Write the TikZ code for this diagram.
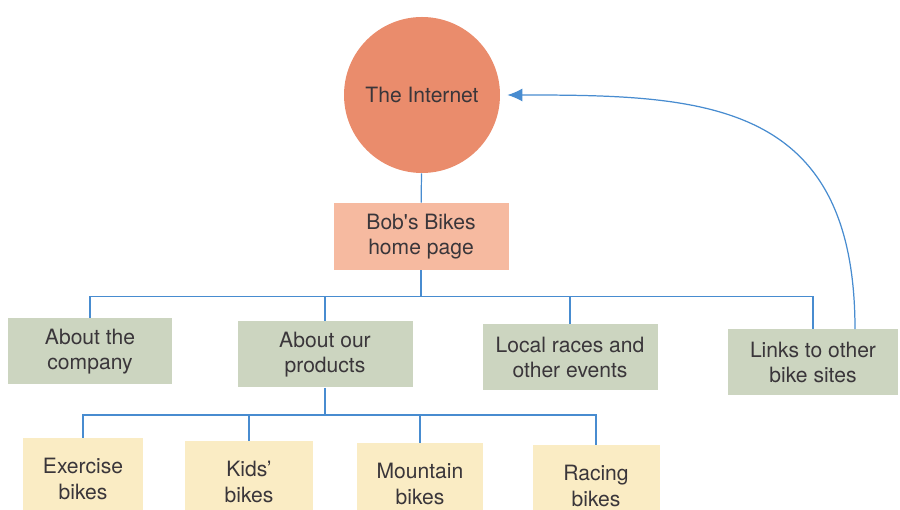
\documentclass[tikz,border=0pt]{standalone}
\usepackage{fontspec}
\setmainfont{TeX Gyre Heros}
\usepackage{tikz}
\usetikzlibrary{arrows.meta}

\definecolor{netorange}{RGB}{234,140,108}
\definecolor{homepink}{RGB}{246,186,160}
\definecolor{sectiongreen}{RGB}{204,213,192}
\definecolor{bikeyellow}{RGB}{250,236,196}
\definecolor{linkblue}{RGB}{72,140,208}
\definecolor{labelgray}{RGB}{58,54,58}

\begin{document}
\begin{tikzpicture}[every node/.style={text=labelgray,font=\fontsize{12}{14.5}\selectfont,align=center},
	net_node/.style={circle,fill=netorange,minimum size=3.12cm,inner sep=0pt},
	home_node/.style={rectangle,fill=homepink,minimum width=3.5cm,minimum height=1.34cm},
	section_node/.style={rectangle,fill=sectiongreen,minimum height=1.32cm},
	bike_node/.style={rectangle,fill=bikeyellow,minimum height=1.64cm},
	link/.style={draw=linkblue,line width=0.7pt}]
	    \useasboundingbox (0,0) rectangle (18,-10.2);

	    % joints of the two rows of connectors
	    \coordinate (bus1) at (8.42,-5.93);
	    \coordinate (bus2) at (6.5,-8.3);

	    \node[net_node] (net) at (8.44,-1.9) {The Internet};
	    \node[home_node] (home) at (8.42,-4.73) {Bob\textquotesingle s Bikes\\home page};

	    \node[section_node,minimum width=3.28cm] (company) at (1.8,-7.03) {About the\\company};
	    \node[section_node,minimum width=3.5cm] (products) at (6.5,-7.09) {About our\\products};
	    \node[section_node,minimum width=3.5cm] (races) at (11.4,-7.15) {Local races and\\other events};
	    \node[section_node,minimum width=3.4cm] (links) at (16.26,-7.25) {Links to other\\bike sites};

	    \node[bike_node,minimum width=2.4cm] (exercise) at (1.66,-9.58) {Exercise\\bikes};
	    \node[bike_node,minimum width=2.56cm] (kids) at (4.98,-9.64) {Kids'\\bikes};
	    \node[bike_node,minimum width=2.52cm] (mountain) at (8.4,-9.68) {Mountain\\bikes};
	    \node[bike_node,minimum width=2.54cm] (racing) at (11.92,-9.72) {Racing\\bikes};

	    \draw[link] (net) -- (home);
	    \draw[link] (home) -- (bus1);
	    \foreach \n in {company,products,races,links}
	        \draw[link] (bus1) -| (\n);

	    \draw[link] (products) -- (bus2);
	    \foreach \n in {exercise,kids,mountain,racing}
	        \draw[link] (bus2) -| (\n);

	    \draw[link,-{Latex[length=3mm,width=2.6mm]}] ([xshift=0.84cm]links.north)
	        to[out=90,in=0,out distance=4.6cm,in distance=3.9cm] ([xshift=0.14cm]net.east);
    \end{tikzpicture}
\end{document}
